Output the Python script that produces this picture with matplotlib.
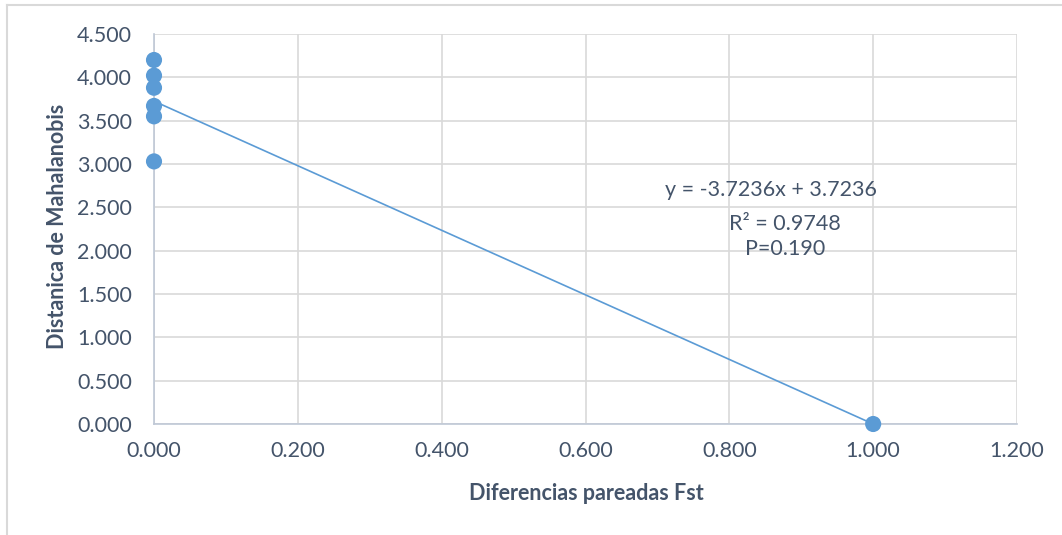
import numpy as np
import matplotlib.pyplot as plt
from matplotlib.lines import Line2D

plt.rcParams['font.family'] = ['Lato', 'DejaVu Sans']

# Paired Fst differences vs Mahalanobis distance
fst = [0.0, 0.0, 0.0, 0.0, 0.0, 0.0, 1.0]
mahalanobis = [4.20, 4.02, 3.88, 3.67, 3.55, 3.03, 0.0]

x_ticks = [0.0, 0.2, 0.4, 0.6, 0.8, 1.0, 1.2]
y_ticks = [0.0, 0.5, 1.0, 1.5, 2.0, 2.5, 3.0, 3.5, 4.0, 4.5]

eq_text = "y = -3.7236x + 3.7236"
r2_text = "R² = 0.9748"
p_text = "P=0.190"

text_color = '#44546A'
point_color = '#5B9BD5'
grid_color = '#D9D9D9'

W, H = 1062, 535
fig = plt.figure(figsize=(W / 100, H / 100), dpi=100)
ax = fig.add_axes([154 / W, 1 - 424 / H, (1017 - 154) / W, (424 - 34) / H])


def px(x, y):
    return x / W, 1 - y / H


# outer chart frame
fig.add_artist(Line2D([7 / W, 7 / W], [0, 1 - 5 / H], transform=fig.transFigure,
                      color=grid_color, lw=1.5))
fig.add_artist(Line2D([7 / W, 1], [1 - 5 / H, 1 - 5 / H], transform=fig.transFigure,
                      color=grid_color, lw=1.5))

ax.set_xlim(0, 1.2)
ax.set_ylim(0, 4.5)
ax.set_xticks(x_ticks)
ax.set_yticks(y_ticks)
ax.set_xticklabels([f"{v:.3f}" for v in x_ticks])
ax.set_yticklabels([f"{v:.3f}" for v in y_ticks])
ax.grid(True, color=grid_color, lw=1.2, zorder=0)
ax.tick_params(axis='y', length=0, labelsize=15.5, labelcolor=text_color, pad=16)
ax.tick_params(axis='x', length=0, labelsize=15.5, labelcolor=text_color, pad=12)
for side in ['top', 'right']:
    ax.spines[side].set_visible(False)
for side in ['left', 'bottom']:
    ax.spines[side].set_color('#BFC8D6')
    ax.spines[side].set_linewidth(1.2)

# linear trendline
slope, intercept = np.polyfit(fst, mahalanobis, 1)
xs = np.array([0.0, 1.0])
ax.plot(xs, slope * xs + intercept, color=point_color, lw=1.2, zorder=3)

ax.scatter(fst, mahalanobis, s=135, color=point_color, edgecolors='none', zorder=4,
           clip_on=False)

fig.text(*px(586, 494), "Diferencias pareadas Fst", fontsize=15.5, fontweight='bold',
         color=text_color, ha='center', va='center')
fig.text(*px(58, 226), "Distanica de Mahalanobis", fontsize=15.5, fontweight='bold',
         color=text_color, ha='center', va='center', rotation=90)

fig.text(*px(771, 190), eq_text, fontsize=15.5, color=text_color, ha='center', va='center')
fig.text(*px(785, 224), r2_text, fontsize=15.5, color=text_color, ha='center', va='center')
fig.text(*px(785, 249), p_text, fontsize=15.5, color=text_color, ha='center', va='center')

fig.savefig('out.png', dpi=100)
